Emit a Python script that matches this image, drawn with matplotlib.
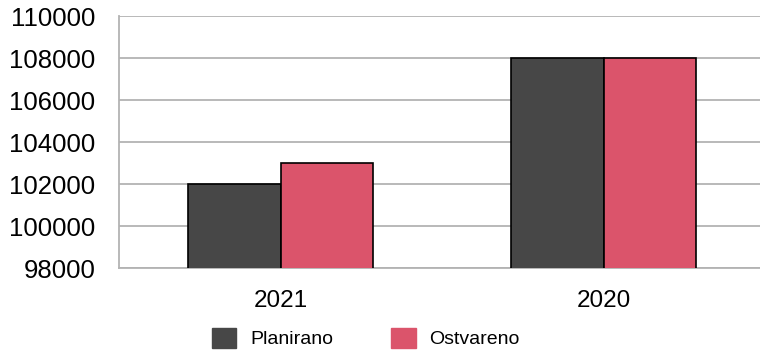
import matplotlib
matplotlib.use("Agg")
import matplotlib.pyplot as plt
import numpy as np
from matplotlib.patches import Patch

plt.rcParams['font.family'] = ['Liberation Sans', 'DejaVu Sans']

categories = ["2021", "2020"]
planirano = [102000, 108000]
ostvareno = [103000, 108000]
series_names = ["Planirano", "Ostvareno"]
colors = ["#474747", "#DB546B"]

fig = plt.figure(figsize=(7.6, 3.51), dpi=100)
ax = fig.add_axes([119/760, 1-268/351, (765-119)/760, (268-16)/351])

x = np.arange(len(categories))
w = 0.286
ax.bar(x - w/2, planirano, w, color=colors[0], edgecolor="black", linewidth=1.2, zorder=3)
ax.bar(x + w/2, ostvareno, w, color=colors[1], edgecolor="black", linewidth=1.2, zorder=3)

ax.set_ylim(98000, 110000)
ax.set_xlim(-0.5, 1.5)
ax.set_yticks(np.arange(98000, 110001, 2000))
ax.set_xticks(x)
ax.set_xticklabels(categories, fontsize=17.5)
ax.tick_params(axis='y', labelsize=18.5, length=0, pad=17)
ax.tick_params(axis='x', length=0, pad=16)
ax.grid(axis='y', color="#b3b3b3", linewidth=1.3, zorder=0)
for s in ["top", "right"]:
    ax.spines[s].set_visible(False)
ax.spines["left"].set_color("#b3b3b3")
ax.spines["bottom"].set_color("#b3b3b3")
ax.spines["left"].set_linewidth(1.3)
ax.spines["bottom"].set_linewidth(1.3)

handles = [Patch(facecolor=c, edgecolor=c) for c in colors]
fig.legend(handles, series_names, loc="center", bbox_to_anchor=(366/760, 1-338/351),
           ncol=2, frameon=False, fontsize=14, handlelength=1.24, handleheight=1.24,
           columnspacing=3.0, handletextpad=0.72, borderpad=0, borderaxespad=0)

fig.savefig("out.png", dpi=100)
